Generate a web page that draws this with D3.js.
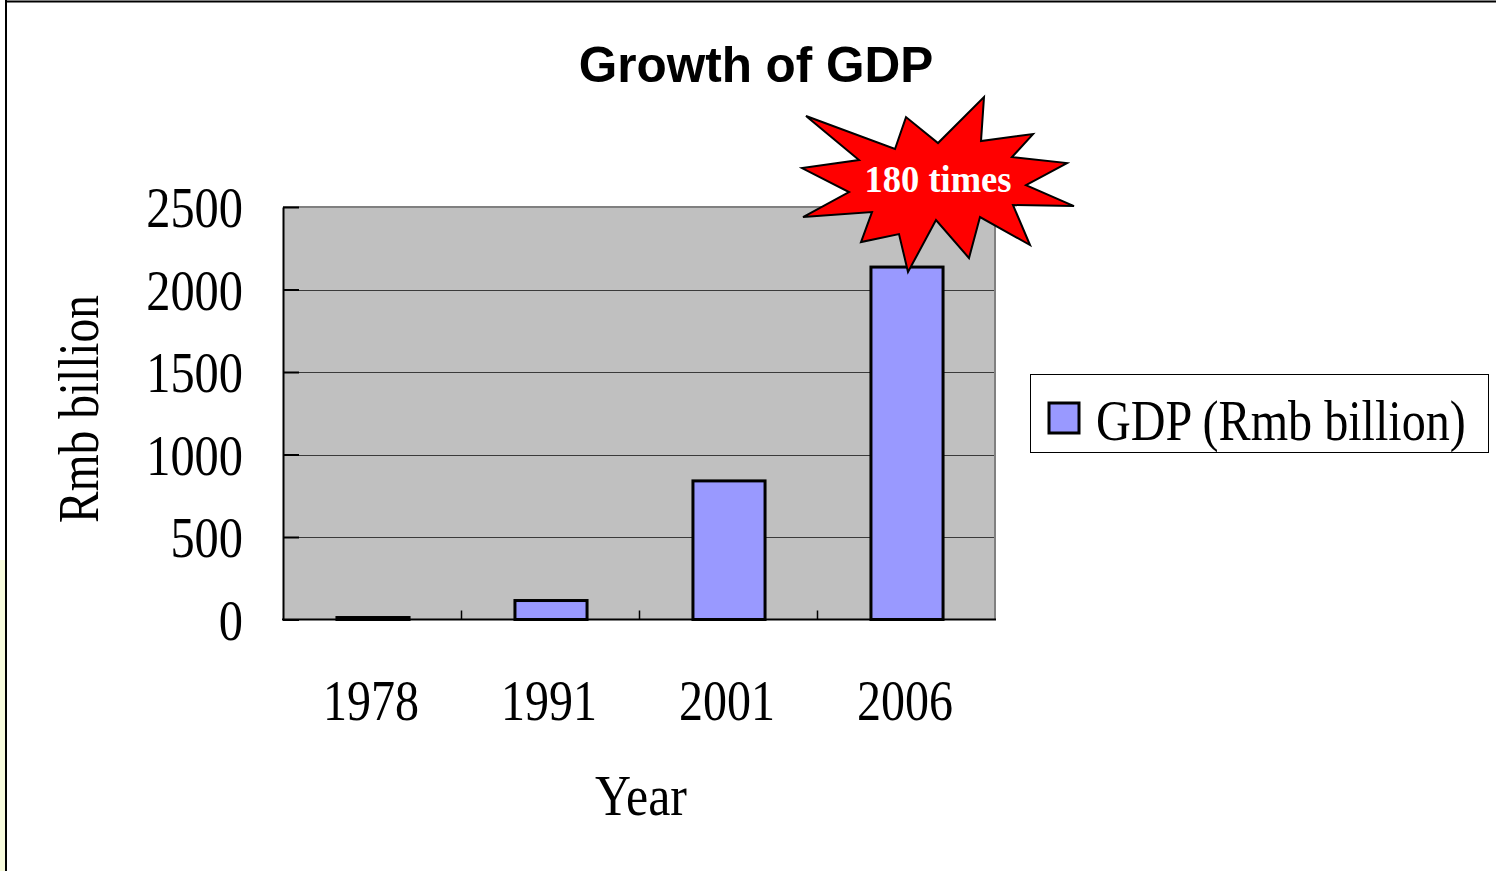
<!DOCTYPE html>
<html><head><meta charset="utf-8">
<script src="https://cdn.jsdelivr.net/npm/d3@7"></script>
<style>html,body{margin:0;padding:0;background:#fff;}svg{display:block;}</style>
</head><body>
<script>
const years = ["1978","1991","2001","2006"];
const gdp = [12, 115, 840, 2136];
const yTicks = [0, 500, 1000, 1500, 2000, 2500];
const titleText = "Growth of GDP";
const yTitle = "Rmb billion";
const xTitle = "Year";
const legendLabel = "GDP (Rmb billion)";
const calloutText = "180 times";
// starburst outline, offsets relative to its tip (pointing at the 2006 bar)
const starShape = [[-102,-156],[-13,-123],[-2,-155],[30,-129],[76,-175],[73,-131],[125,-138],[104,-115],[159,-109],[118,-87],[166,-66],[105,-67],[122,-27],[72,-55],[61,-14],[28,-52],[0,0],[-9,-38],[-47,-30],[-36,-60],[-105,-55],[-59,-80],[-106,-104],[-49,-112]];

const W = 1496, H = 871;
const svg = d3.select("body").append("svg").attr("width", W).attr("height", H);
const serif = "'Liberation Serif','Times New Roman',serif";

// draw a narrow (condensed) serif text by horizontal scaling to a target width
function narrowText(parent, str, cx, cy, anchor, size, targetW, opts) {
  opts = opts || {};
  const g = parent.append("g").attr("transform", `translate(${cx},${cy})${opts.rotate ? ` rotate(${opts.rotate})` : ""}`);
  const t = g.append("text").attr("x",0).attr("y",0).attr("text-anchor",anchor)
    .attr("font-family",serif).attr("font-size",size)
    .attr("font-weight",opts.bold ? "bold" : "normal")
    .attr("fill",opts.fill || "#000").text(str);
  const w = t.node().getComputedTextLength();
  const s = w > 0 ? targetW / w : 1;
  t.attr("transform", `scale(${s},1)`);
  return t;
}

// page frame
svg.append("rect").attr("x",0).attr("y",560).attr("width",6).attr("height",H-560).attr("fill","#f7fbdc");
svg.append("line").attr("x1",6).attr("x2",6).attr("y1",0).attr("y2",H).attr("stroke","#000").attr("stroke-width",2);
svg.append("line").attr("x1",6).attr("x2",W).attr("y1",1.5).attr("y2",1.5).attr("stroke","#000").attr("stroke-width",2);

const L = 283, R = 995, T = 207, B = 619.5;
const x = d3.scaleBand().domain(years).range([L, R]).paddingInner(0.595).paddingOuter(0.2975);
const y = d3.scaleLinear().domain([0, 2500]).range([B, T]);

// plot background
svg.append("rect").attr("x",L).attr("y",T).attr("width",R-L).attr("height",B-T).attr("fill","#c0c0c0");

// grid lines
svg.append("g").selectAll("line").data(yTicks.filter(v => v > 0 && v < 2500)).join("line")
  .attr("x1",L).attr("x2",R).attr("y1",d=>Math.round(y(d))+0.5).attr("y2",d=>Math.round(y(d))+0.5)
  .attr("stroke","#3a3a3a").attr("stroke-width",1);

// top & right border (gray)
svg.append("path").attr("d",`M${L},${T}H${R}V${B}`).attr("fill","none").attr("stroke","#808080").attr("stroke-width",2);

// bars
svg.append("g").selectAll("rect").data(years).join("rect")
  .attr("x", d => x(d) + 1).attr("width", x.bandwidth())
  .attr("y", (d,i) => y(gdp[i])).attr("height", (d,i) => B - y(gdp[i]))
  .attr("fill","#9999ff").attr("stroke","#000").attr("stroke-width",3);

// y axis (ticks inward)
const yAxis = d3.axisRight(y).tickValues(yTicks).tickSize(16).tickSizeOuter(0).tickFormat("");
const ya = svg.append("g").attr("transform",`translate(${L},0)`).call(yAxis);
ya.select(".domain").attr("stroke","#000").attr("stroke-width",2);
ya.selectAll(".tick line").attr("stroke","#000").attr("stroke-width",2);

// x axis (ticks inward at category boundaries)
const step = x.step();
const bounds = years.slice(1).map(d => x(d) - (step - x.bandwidth())/2);
svg.append("g").selectAll("line").data(bounds).join("line")
  .attr("x1",d=>Math.round(d)+0.5).attr("x2",d=>Math.round(d)+0.5).attr("y1",B).attr("y2",B-9)
  .attr("stroke","#000").attr("stroke-width",1.5);
svg.append("line").attr("x1",L-1).attr("x2",R+1).attr("y1",B).attr("y2",B).attr("stroke","#000").attr("stroke-width",2);

// y tick labels
const yl = svg.append("g");
yTicks.forEach(v => narrowText(yl, String(v), 243, y(v) + 20, "end", 56, String(v).length * 24.2));

// x tick labels
const xl = svg.append("g");
years.forEach(d => narrowText(xl, d, x(d) + x.bandwidth()/2 - 1, 720, "middle", 56, 96));

// axis titles
narrowText(svg, yTitle, 98, 409, "middle", 56, 228, {rotate: -90});
narrowText(svg, xTitle, 641, 815, "middle", 56, 92);

// title
svg.append("text").attr("x",756).attr("y",82).attr("text-anchor","middle")
  .attr("font-family","'Liberation Sans',Arial,sans-serif").attr("font-weight","bold").attr("font-size",49.5)
  .text(titleText);

// legend
const lg = svg.append("g");
lg.append("rect").attr("x",1030.5).attr("y",374.5).attr("width",458).attr("height",78).attr("fill","#fff").attr("stroke","#000").attr("stroke-width",1);
lg.append("rect").attr("x",1049).attr("y",403).attr("width",30).attr("height",30).attr("fill","#9999ff").attr("stroke","#000").attr("stroke-width",3);
narrowText(lg, legendLabel, 1096, 440, "start", 56, 370);

// starburst callout anchored to 2006 bar top
const last = years.length - 1;
const tipX = x(years[last]) + x.bandwidth()/2 + 2;
const tipY = y(gdp[last]) + 5;
svg.append("path")
  .attr("d", d3.line()(starShape.map(p => [tipX + p[0], tipY + p[1]])) + "Z")
  .attr("fill","#ff0000").attr("stroke","#000").attr("stroke-width",2).attr("stroke-linejoin","miter");
narrowText(svg, calloutText, tipX + 30, tipY - 80, "middle", 37, 147, {bold: true, fill: "#fff"});
</script>
</body></html>
